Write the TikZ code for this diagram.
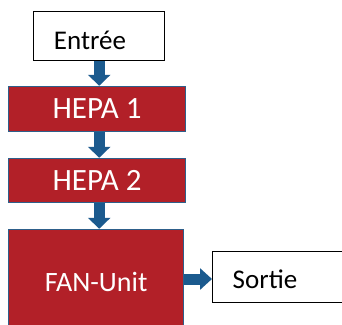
\documentclass[tikz,border=0pt]{standalone}
\usepackage{fontspec}
\setmainfont{Carlito}
\usetikzlibrary{arrows.meta}
\definecolor{filterred}{HTML}{B22028}
\definecolor{edgeblue}{HTML}{2E5F8A}
\definecolor{flowblue}{HTML}{1B5A8E}
\tikzset{
  x=1pt, y=1pt,
  portbox/.style={draw=black, line width=1.4pt, fill=white, inner sep=0pt},
  unitbox/.style={draw=edgeblue, line width=1.2pt, fill=filterred, inner sep=0pt, text=white},
  flowarrow/.style={flowblue, line width=11pt, -{Triangle[width=22pt,length=11pt]}}
}
\begin{document}
\begin{tikzpicture}
\useasboundingbox (0,0) rectangle (342,324);
\clip (0,0) rectangle (342,324);
% inlet and outlet
\node[portbox, minimum width=131pt, minimum height=49pt, anchor=south west] (entree) at (33,263) {};
\node[font=\fontsize{27}{30}\selectfont] (entreeLabel) at (90,284) {Entrée};
% filter stages
\node[unitbox, minimum width=177pt, minimum height=45pt, anchor=south west, font=\fontsize{31}{34}\selectfont] (hepaA) at (8,192) {HEPA 1};
\node[unitbox, minimum width=177pt, minimum height=44pt, anchor=south west, font=\fontsize{31}{34}\selectfont] (hepaB) at (8,121) {HEPA 2};
\node[unitbox, minimum width=175pt, minimum height=106pt, anchor=south west, font=\fontsize{28}{31}\selectfont] (fan) at (8,-12) {FAN-Unit};
\node[portbox, minimum width=140pt, minimum height=51pt, anchor=south west] (sortie) at (212,21) {};
\node[font=\fontsize{27}{30}\selectfont] (sortieLabel) at (265,45) {Sortie};
% air flow
\draw[flowarrow] (entree.south) -- (entree.south |- hepaA.north);
\draw[flowarrow] (hepaA.south -| entree.south) -- (hepaB.north -| entree.south);
\draw[flowarrow] (hepaB.south -| entree.south) -- (fan.north -| entree.south);
\draw[flowarrow, -{Triangle[width=21pt,length=12pt]}] (fan.east |- sortieLabel) -- (sortie.west |- sortieLabel);
\end{tikzpicture}
\end{document}
